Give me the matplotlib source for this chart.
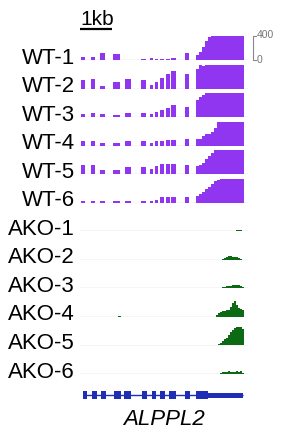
import matplotlib
matplotlib.use("Agg")
import matplotlib.pyplot as plt
from matplotlib.transforms import blended_transform_factory

plt.rcParams['font.family'] = ['Liberation Sans', 'DejaVu Sans']

#
# Data
region_start, region_end = 0, 5250     # bp shown in every track
track_max = 400                        # data range of the coverage tracks

wt_labels = ['WT-1', 'WT-2', 'WT-3', 'WT-4', 'WT-5', 'WT-6']
ako_labels = ['AKO-1', 'AKO-2', 'AKO-3', 'AKO-4', 'AKO-5', 'AKO-6']

# WT coverage bins (bp)
wt_bin_start = [30, 345, 625, 1030, 1405, 1905, 2190, 2345, 2500, 2690, 2845, 3280,
                3625, 3720, 3810, 3905, 4000, 4095, 4190, 4280, 4375, 4470]
wt_bin_end = [155, 470, 780, 1250, 1595, 2060, 2280, 2440, 2625, 2810, 3000, 3405,
              3720, 3810, 3905, 4000, 4095, 4190, 4280, 4375, 4470, 5125]

wt_1 = [50, 55, 115, 100, 0, 10, 35, 20, 25, 25, 30, 110,
        85, 135, 215, 320, 385, 400, 400, 400, 400, 400]
wt_2 = [150, 165, 35, 115, 165, 135, 65, 115, 180, 250, 285, 235,
        330, 400, 370, 400, 400, 400, 400, 400, 400, 400]
wt_3 = [50, 65, 50, 35, 65, 65, 50, 85, 115, 150, 200, 165,
        285, 335, 370, 400, 400, 400, 400, 400, 400, 400]
wt_4 = [70, 70, 45, 45, 75, 80, 45, 85, 85, 90, 90, 110,
        110, 115, 160, 190, 200, 220, 300, 390, 400, 400]
wt_5 = [150, 150, 70, 65, 115, 115, 85, 130, 165, 165, 165, 150,
        130, 150, 185, 260, 310, 360, 400, 400, 400, 400]
wt_6 = [35, 35, 35, 25, 35, 35, 35, 50, 90, 100, 100, 95,
        110, 150, 180, 230, 260, 320, 360, 375, 400, 400]

# AKO coverage bins (bp)
ako_bin_start = [60, 1190, 3940, 4250, 4312, 4375, 4438, 4500, 4562, 4625, 4688,
                 4750, 4812, 4875, 4938, 5000, 5062]
ako_bin_end = [125, 1280, 4000, 4312, 4375, 4438, 4500, 4562, 4625, 4688, 4750,
               4812, 4875, 4938, 5000, 5062, 5125]

ako_1 = [0, 0, 0, 0, 0, 0, 0, 0, 0, 0, 0, 0, 0, 15, 30, 25, 5]
ako_2 = [0, 0, 0, 0, 0, 0, 10, 35, 55, 65, 65, 55, 50, 40, 30, 20, 5]
ako_3 = [0, 0, 0, 0, 0, 10, 25, 30, 35, 35, 40, 50, 55, 60, 55, 40, 20]
ako_4 = [0, 15, 0, 40, 60, 75, 95, 105, 110, 120, 170, 240, 260, 200, 150, 140, 120]
ako_5 = [0, 0, 0, 0, 25, 45, 70, 100, 130, 170, 220, 260, 290, 310, 315, 300, 270]
ako_6 = [5, 0, 8, 0, 0, 15, 30, 35, 30, 45, 40, 30, 35, 45, 40, 45, 25]

# gene model (bp)
gene_name = 'ALPPL2'
gene_start, gene_end = 95, 5095
exon_start = [95, 375, 655, 1060, 1375, 1940, 2250, 2500, 2780, 3280, 3625]
exon_end = [220, 530, 810, 1280, 1595, 2095, 2375, 2655, 3000, 3440, 4000]
utr_start, utr_end = 4000, 5095

scale_bar_bp = 1000

#
# Layout (pixels)
W, H = 290, 441
purple = '#9035f0'
green = '#0c6a14'
blue = '#1f2fb4'
base_gray = '#d6d6d6'

track_left, track_right = 80, 248
first_base = 60
track_step = 28.55
track_h = 24


def px_axes(fig, left, top, width, height):
    return fig.add_axes([left / W, 1 - (top + height) / H, width / W, height / H])


def step_outline(starts, ends, values):
    # bedGraph bins -> one closed outline, so touching bins show no seams
    xs, ys = [], []
    for s, e, v in zip(starts, ends, values):
        xs += [s, s, e, e]
        ys += [0, v, v, 0]
    return xs, ys


fig = plt.figure(figsize=(W / 100, H / 100), dpi=100)

tracks = [(l, v, wt_bin_start, wt_bin_end, purple) for l, v in
          zip(wt_labels, [wt_1, wt_2, wt_3, wt_4, wt_5, wt_6])]
tracks += [(l, v, ako_bin_start, ako_bin_end, green) for l, v in
           zip(ako_labels, [ako_1, ako_2, ako_3, ako_4, ako_5, ako_6])]

axes = []
for i, (label, values, starts, ends, color) in enumerate(tracks):
    base = first_base + track_step * i
    ax = px_axes(fig, track_left, base - track_h, track_right - track_left, track_h)
    xs, ys = step_outline(starts, ends, values)
    ax.fill_between(xs, ys, 0, color=color, linewidth=0, zorder=2)
    ax.axhline(0, color=base_gray, lw=1.0, zorder=1)
    ax.set_xlim(region_start, region_end)
    ax.set_ylim(0, track_max)
    ax.axis('off')
    ax.text(-5 / (track_right - track_left), -3.5 / track_h, label,
            transform=ax.transAxes, ha='right', va='baseline', fontsize=16)
    axes.append(ax)

#
# Scale bar and data range on the first track
ax0 = axes[0]
trans = blended_transform_factory(ax0.transData, ax0.transAxes)
ax0.plot([0, scale_bar_bp], [31 / track_h, 31 / track_h], color='black', lw=1.6,
         transform=trans, clip_on=False, solid_capstyle='butt')
ax0.text(scale_bar_bp * 0.55, 35.5 / track_h, '1kb', transform=trans,
         ha='center', va='baseline', fontsize=15)

bx = (253 - track_left) / (track_right - track_left)
tx = (256 - track_left) / (track_right - track_left)
ax0.plot([tx, bx, bx, tx], [1, 1, 0, 0], color='#888888', lw=0.8,
         transform=ax0.transAxes, clip_on=False)
ax0.text(tx + 0.005, 1.04, str(track_max), transform=ax0.transAxes, ha='left',
         va='center', fontsize=7.5, color='#777777')
ax0.text(tx + 0.005, 0.0, '0', transform=ax0.transAxes, ha='left',
         va='center', fontsize=7.5, color='#777777')

#
# Gene model
gax = px_axes(fig, track_left, 385, track_right - track_left, 20)
gax.set_xlim(region_start, region_end)
gax.set_ylim(-10, 10)
gax.axis('off')
gax.hlines(0, gene_start, gene_end, color=blue, lw=1.0)
gax.broken_barh([(s, e - s) for s, e in zip(exon_start, exon_end)], (-4, 8),
                facecolors=blue)
gax.broken_barh([(utr_start, utr_end - utr_start)], (-2.5, 5), facecolors=blue)
gax.text(2625, -14, gene_name, ha='center', va='top',
         fontsize=16, style='italic')

fig.savefig('out.png', dpi=100)
